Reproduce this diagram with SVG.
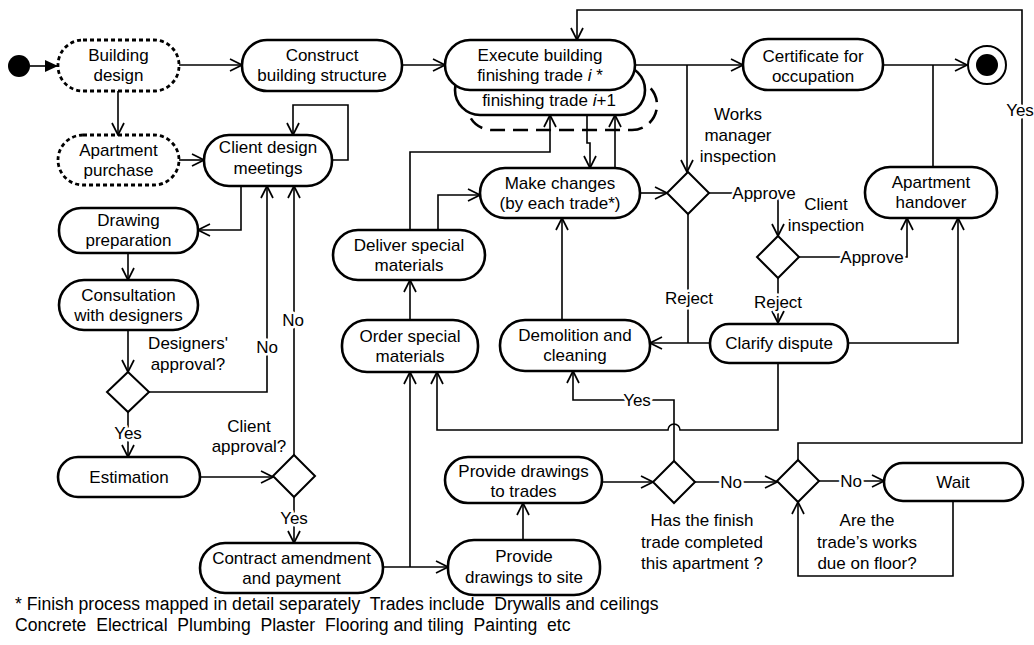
<svg xmlns="http://www.w3.org/2000/svg" width="1034" height="645" viewBox="0 0 1034 645">
<style>
text{font-family:"Liberation Sans",Arial,sans-serif;font-size:17px;fill:#000;text-anchor:middle}
.n{fill:#fff;stroke:#000;stroke-width:2.6}
.d{fill:#fff;stroke:#000;stroke-width:2.8;stroke-dasharray:4 3}
.dm{fill:#fff;stroke:#000;stroke-width:2}
.c{fill:none;stroke:#000;stroke-width:1.6}
.lbl{paint-order:stroke;stroke:#fff;stroke-width:5px;stroke-linejoin:round}
.fn{text-anchor:start;font-size:17.6px}
</style>
<defs>
<marker id="a" viewBox="0 0 14 14" refX="13" refY="7" markerWidth="14" markerHeight="14" markerUnits="userSpaceOnUse" orient="auto">
<path d="M1,1 L13,7 L1,13" fill="none" stroke="#000" stroke-width="1.7"/>
</marker>
<marker id="f" viewBox="0 0 14 14" refX="13" refY="7" markerWidth="14" markerHeight="14" markerUnits="userSpaceOnUse" orient="auto">
<path d="M0,1 L13,7 L0,13 Z" fill="#000"/>
</marker>
</defs>
<rect width="1034" height="645" fill="#fff"/>

<g id="start"><circle cx="19" cy="66" r="11" fill="#000"/></g>
<g id="end"><circle cx="987" cy="65" r="19" fill="#fff" stroke="#000" stroke-width="2"/><circle cx="987" cy="65" r="11" fill="#000"/></g>

<g id="building-design"><rect class="d" x="58" y="40" width="121" height="51" rx="25"/><text x="118.5" y="61">Building</text><text x="118.5" y="81">design</text></g>
<g id="apartment-purchase"><rect class="d" x="58" y="135" width="121" height="50" rx="25"/><text x="118.5" y="155.5">Apartment</text><text x="118.5" y="175.5">purchase</text></g>
<g id="construct"><rect class="n" x="242" y="40" width="160" height="51" rx="25"/><text x="322" y="61">Construct</text><text x="322" y="81">building structure</text></g>
<g id="client-design"><rect class="n" x="204" y="135" width="128" height="51" rx="25"/><text x="268" y="153">Client design</text><text x="268" y="174">meetings</text></g>
<g id="drawing-prep"><rect class="n" x="59" y="208" width="139" height="45" rx="22"/><text x="128.5" y="226">Drawing</text><text x="128.5" y="246">preparation</text></g>
<g id="consultation"><rect class="n" x="59" y="280" width="139" height="50" rx="25"/><text x="128.5" y="301">Consultation</text><text x="128.5" y="321">with designers</text></g>
<g id="estimation"><rect class="n" x="58" y="457" width="142" height="40" rx="20"/><text x="129" y="483">Estimation</text></g>
<g id="contract"><rect class="n" x="200" y="543" width="183" height="50" rx="25"/><text x="291.5" y="564">Contract amendment</text><text x="291.5" y="584">and payment</text></g>
<g id="deliver"><rect class="n" x="333" y="230" width="152" height="50" rx="25"/><text x="409" y="250.5">Deliver special</text><text x="409" y="270.5">materials</text></g>
<g id="order"><rect class="n" x="342" y="320" width="136" height="52" rx="25"/><text x="410" y="341.5">Order special</text><text x="410" y="361.5">materials</text></g>
<g id="demolition"><rect class="n" x="500" y="320" width="150" height="51" rx="25"/><text x="575" y="341">Demolition and</text><text x="575" y="361">cleaning</text></g>
<g id="make-changes"><rect class="n" x="480" y="168" width="160" height="50" rx="25"/><text x="560" y="189">Make changes</text><text x="560" y="209">(by each trade*)</text></g>
<g id="execute">
<rect x="467" y="80" width="190" height="50" rx="25" fill="none" stroke="#000" stroke-width="2.6" stroke-dasharray="15 8"/>
<rect class="n" x="455" y="65" width="190" height="50" rx="25"/>
<text x="549" y="106">finishing trade <tspan font-style="italic">i</tspan>+1</text>
<rect class="n" x="445" y="40" width="190" height="50" rx="25"/>
<text x="540" y="61">Execute building</text><text x="540" y="81">finishing trade <tspan font-style="italic">i</tspan> *</text>
</g>
<g id="certificate"><rect class="n" x="743" y="39" width="140" height="51" rx="25"/><text x="813" y="62">Certificate for</text><text x="813" y="82">occupation</text></g>
<g id="handover"><rect class="n" x="865" y="167" width="132" height="51" rx="25"/><text x="931" y="188">Apartment</text><text x="931" y="208">handover</text></g>
<g id="clarify"><rect class="n" x="710" y="324" width="138" height="39" rx="19"/><text x="779" y="349">Clarify dispute</text></g>
<g id="drawings-trades"><rect class="n" x="445" y="457" width="157" height="46" rx="23"/><text x="523.5" y="477">Provide drawings</text><text x="523.5" y="497">to trades</text></g>
<g id="drawings-site"><rect class="n" x="448" y="540" width="152" height="55" rx="26"/><text x="524" y="562">Provide</text><text x="524" y="583">drawings to site</text></g>
<g id="wait"><rect class="n" x="884" y="463" width="139" height="38" rx="19"/><text x="953" y="488">Wait</text></g>

<g id="dec-designers"><path class="dm" d="M128,372 L149,392 L128,412 L107,392 Z"/><text x="188" y="349">Designers'</text><text x="188" y="370">approval?</text></g>
<g id="dec-client"><path class="dm" d="M294,455 L315,476 L294,497 L273,476 Z"/><text x="249" y="432">Client</text><text x="249" y="452">approval?</text></g>
<g id="dec-works"><path class="dm" d="M688,172 L709,193 L688,214 L667,193 Z"/><text x="738" y="120">Works</text><text x="738" y="141">manager</text><text x="738" y="162">inspection</text></g>
<g id="dec-client-insp"><path class="dm" d="M778,236 L799,257 L778,278 L757,257 Z"/><text x="826" y="210">Client</text><text x="826" y="231">inspection</text></g>
<g id="dec-finish"><path class="dm" d="M674,461 L695,482 L674,503 L653,482 Z"/><text x="702" y="526">Has the finish</text><text x="702" y="548">trade completed</text><text x="702" y="569">this apartment ?</text></g>
<g id="dec-due"><path class="dm" d="M798,460 L819,481 L798,502 L777,481 Z"/><text x="867" y="526">Are the</text><text x="867" y="548">trade’s works</text><text x="867" y="569">due on floor?</text></g>

<g id="connectors">
<path class="c" d="M30,66 H58" marker-end="url(#f)"/>
<path class="c" d="M179,65 H242" marker-end="url(#a)"/>
<path class="c" d="M118,91 V135" marker-end="url(#a)"/>
<path class="c" d="M402,65 H445" marker-end="url(#a)"/>
<path class="c" d="M179,160 H204" marker-end="url(#a)"/>
<path class="c" d="M332,160 H348 V105 H293 V135" marker-end="url(#a)"/>
<path class="c" d="M241,186 V230 H198" marker-end="url(#a)"/>
<path class="c" d="M128,253 V280" marker-end="url(#a)"/>
<path class="c" d="M128,330 V372" marker-end="url(#a)"/>
<path class="c" d="M149,392 H267 V186" marker-end="url(#a)"/>
<path class="c" d="M128,412 V457" marker-end="url(#a)"/>
<path class="c" d="M200,477 H273" marker-end="url(#a)"/>
<path class="c" d="M294,455 V186" marker-end="url(#a)"/>
<path class="c" d="M294,497 V543" marker-end="url(#a)"/>
<path class="c" d="M383,567 H448" marker-end="url(#a)"/>
<path class="c" d="M410,567 V372" marker-end="url(#a)"/>
<path class="c" d="M523,540 V503" marker-end="url(#a)"/>
<path class="c" d="M602,482 H653" marker-end="url(#a)"/>
<path class="c" d="M695,482 H777" marker-end="url(#a)"/>
<path class="c" d="M819,481 H884" marker-end="url(#a)"/>
<path class="c" d="M953,501 V576 H798 V502" marker-end="url(#a)"/>
<path class="c" d="M798,460 V443 H1022 V10 H577 V40" marker-end="url(#a)"/>
<path class="c" d="M674,461 V400 H573 V371" marker-end="url(#a)"/>
<path class="c" d="M778,363 V430 H680 A6,6 0 0 0 668,430 H437 V372" marker-end="url(#a)"/>
<path class="c" d="M410,320 V280" marker-end="url(#a)"/>
<path class="c" d="M438,230 V195 H480" marker-end="url(#a)"/>
<path class="c" d="M410,230 V152 H550 V115" marker-end="url(#a)"/>
<path class="c" d="M562,320 V218" marker-end="url(#a)"/>
<path class="c" d="M615,168 V115" marker-end="url(#a)"/>
<path class="c" d="M587,115 V143 H590 V168" marker-end="url(#a)"/>
<path class="c" d="M640,193 H667" marker-end="url(#a)"/>
<path class="c" d="M635,65 H743" marker-end="url(#a)"/>
<path class="c" d="M687,65 V172" marker-end="url(#a)"/>
<path class="c" d="M709,193 H778 V236" marker-end="url(#a)"/>
<path class="c" d="M688,214 V343"/>
<path class="c" d="M710,343 H650" marker-end="url(#a)"/>
<path class="c" d="M799,257 H907 V218" marker-end="url(#a)"/>
<path class="c" d="M778,278 V323" marker-end="url(#a)"/>
<path class="c" d="M848,343 H958 V218" marker-end="url(#a)"/>
<path class="c" d="M933,167 V65"/>
<path class="c" d="M883,65 H967" marker-end="url(#a)"/>
<text class="lbl" x="267" y="353">No</text>
<text class="lbl" x="293" y="326">No</text>
<text class="lbl" x="128" y="439">Yes</text>
<text class="lbl" x="294" y="524">Yes</text>
<text class="lbl" x="764" y="199">Approve</text>
<text class="lbl" x="872" y="263">Approve</text>
<text class="lbl" x="689" y="304">Reject</text>
<text class="lbl" x="778" y="308">Reject</text>
<text class="lbl" x="637" y="406">Yes</text>
<text class="lbl" x="731" y="488">No</text>
<text class="lbl" x="851" y="487">No</text>
<text class="lbl" x="1020" y="116">Yes</text>
</g>

<g id="footnote">
<text class="fn" x="15" y="610" xml:space="preserve">* Finish process mapped in detail separately  Trades include  Drywalls and ceilings</text>
<text class="fn" x="15" y="631" xml:space="preserve">Concrete  Electrical  Plumbing  Plaster  Flooring and tiling  Painting  etc</text>
</g>
</svg>
